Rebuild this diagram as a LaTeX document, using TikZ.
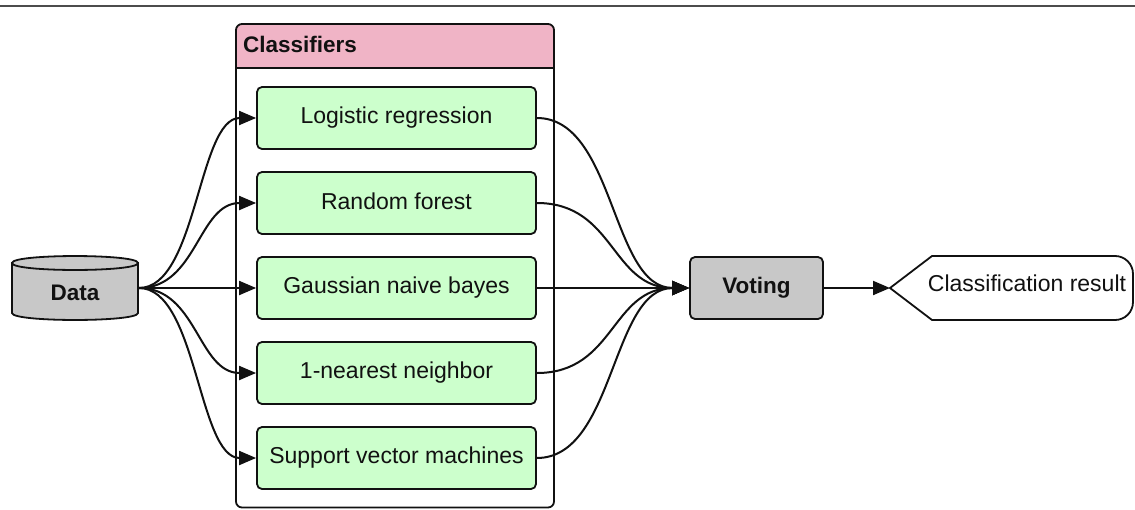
\documentclass[tikz,border=0pt]{standalone}
\usepackage{fontspec}
\setmainfont{Liberation Sans}
\usetikzlibrary{arrows.meta}
\definecolor{pinkhdr}{RGB}{240,180,198}
\definecolor{greenbox}{RGB}{204,255,204}
\definecolor{graybox}{RGB}{200,200,200}
\definecolor{ink}{RGB}{17,17,17}
\begin{document}
\begin{tikzpicture}[x=1pt,y=-1pt,
  clsbox/.style={draw=ink, line width=1.8pt, rounded corners=5pt, fill=greenbox,
    minimum width=279pt, minimum height=62pt, inner sep=0pt,
    font=\fontsize{23}{27}\selectfont, text=ink},
  boldlbl/.style={font=\bfseries\fontsize{22.5}{27}\selectfont, text=ink, inner sep=0pt},
  arr/.style={draw=ink, line width=2pt, -{Triangle[length=17pt,width=14pt]}},
  shapeline/.style={draw=ink, line width=1.8pt}]
\useasboundingbox (0,0) rectangle (1135,509);
% top rule
\draw[line width=1.5pt, black!70] (0,6) -- (1135,6);
% container
\fill[white, rounded corners=6pt] (236,24) rectangle (554,507.5);
\begin{scope}
  \clip (230,20) rectangle (560,68);
  \fill[pinkhdr, rounded corners=6pt] (236,24) rectangle (554,507.5);
\end{scope}
\draw[shapeline, rounded corners=6pt] (236,24) rectangle (554,507.5);
\draw[shapeline] (236,68) -- (554,68);
\node[font=\bfseries\fontsize{22.5}{27}\selectfont, text=ink, anchor=west, inner sep=0pt] (hdr) at (243,44) {Classifiers};
% classifier boxes
\node[clsbox] (lr)  at (396.5,118) {\raisebox{3pt}{Logistic regression}};
\node[clsbox] (rf)  at (396.5,203) {\raisebox{3pt}{Random forest}};
\node[clsbox] (gnb) at (396.5,288) {\raisebox{3pt}{Gaussian naive bayes}};
\node[clsbox] (nn)  at (396.5,373) {\raisebox{3pt}{1-nearest neighbor}};
\node[clsbox] (svm) at (396.5,458) {\raisebox{3pt}{Support vector machines}};
% data cylinder
\path[shapeline, fill=graybox] (12,263) -- (12,313) .. controls (12,322.3) and (138,322.3) .. (138,313) -- (138,263) -- cycle;
\path[shapeline, fill=graybox] (12,263) .. controls (12,253.7) and (138,253.7) .. (138,263) .. controls (138,272.3) and (12,272.3) .. (12,263) -- cycle;
\node[boldlbl] (data) at (75,293) {Data};
\coordinate (dout) at (139,288);
% voting
\node[draw=ink, line width=1.8pt, rounded corners=5pt, fill=graybox, minimum width=133pt,
  minimum height=62pt, boldlbl] (vote) at (756.5,288) {\raisebox{3pt}{Voting}};
% result
\path[shapeline, fill=white] (890,288) -- (932,256) -- (1115,256) .. controls (1125,256) and (1133,264) .. (1133,274)
  -- (1133,302) .. controls (1133,312) and (1125,320) .. (1115,320) -- (932,320) -- cycle;
\node[font=\fontsize{23}{27}\selectfont, text=ink, inner sep=0pt] (res) at (1027,283) {Classification result};
\coordinate (rtip) at (890,288);
% connectors
\foreach \n in {lr,rf,gnb,nn,svm}{
  \draw[arr] (dout) .. controls +(58,0) and +(-58,0) .. (\n.west);
  \draw[arr] (\n.east) .. controls +(78,0) and +(-78,0) .. (vote.west);
}
\draw[arr] (vote.east) -- (rtip);
\end{tikzpicture}
\end{document}
